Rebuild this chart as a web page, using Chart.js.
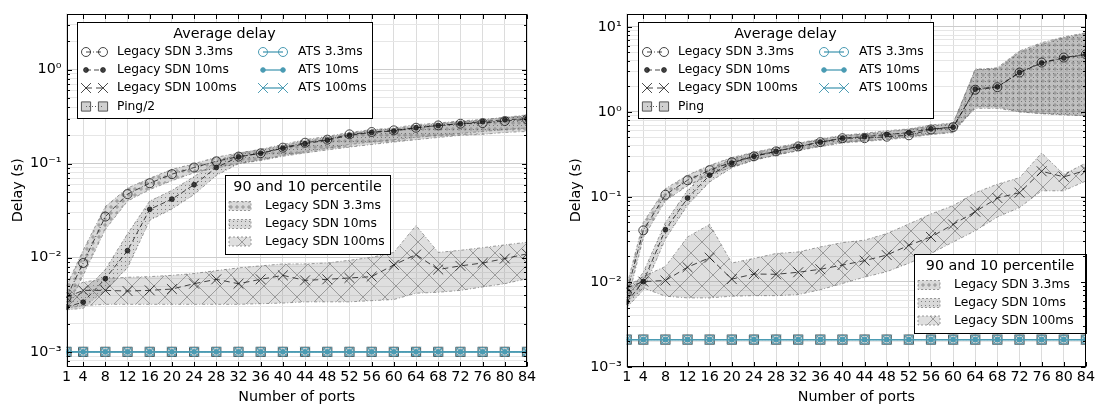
<!DOCTYPE html>
<html>
<head>
<meta charset="utf-8">
<script src="https://cdn.jsdelivr.net/npm/chart.js@4.4.1/dist/chart.umd.min.js"></script>
<style>
  html, body { margin: 0; padding: 0; background: #fff; }
  #wrap { position: relative; width: 1097px; height: 405px; }
  canvas { position: absolute; top: 0; }
  #left { left: 0; }
  #right { left: 548px; }
</style>
</head>
<body>
<div id="wrap">
  <canvas id="left" width="548" height="405"></canvas>
  <canvas id="right" width="549" height="405"></canvas>
</div>
<script>
// x positions (number of ports) shared by every series
const ports = [1, 4, 8, 12, 16, 20, 24, 28, 32, 36, 40, 44, 48, 52, 56, 60, 64, 68, 72, 76, 80, 84];

// log axis labels
const decadeValues = [0.001, 0.01, 0.1, 1, 10];
const decadeLabels = ['10⁻³', '10⁻²', '10⁻¹', '10⁰', '10¹'];

const delayLabels = ['Legacy SDN 3.3ms', 'Legacy SDN 10ms', 'Legacy SDN 100ms'];
const atsLabels = ['ATS 3.3ms', 'ATS 10ms', 'ATS 100ms'];

// ---- left panel: average delay (s) ----
const leftSdn33 = [0.0038, 0.0088, 0.0274, 0.0475, 0.062, 0.0774, 0.091, 0.106, 0.119, 0.129, 0.148, 0.167, 0.18, 0.205, 0.217, 0.226, 0.241, 0.255, 0.266, 0.27, 0.284, 0.296];
const leftSdn10 = [0.0030, 0.00337, 0.0060, 0.0119, 0.0327, 0.042, 0.0597, 0.091, 0.118, 0.129, 0.146, 0.163, 0.178, 0.2, 0.215, 0.222, 0.241, 0.254, 0.265, 0.28, 0.293, 0.30];
const leftSdn100 = [0.0038, 0.0045, 0.0045, 0.00443, 0.0045, 0.00465, 0.0053, 0.0059, 0.0053, 0.0059, 0.0065, 0.00575, 0.0059, 0.0061, 0.0063, 0.0084, 0.0108, 0.0075, 0.0082, 0.0088, 0.0098, 0.011];
const leftPing = [0.001, 0.001, 0.001, 0.001, 0.001, 0.001, 0.001, 0.001, 0.001, 0.001, 0.001, 0.001, 0.001, 0.001, 0.001, 0.001, 0.001, 0.001, 0.001, 0.001, 0.001, 0.001];
const leftAts33 = [0.001, 0.001, 0.001, 0.001, 0.001, 0.001, 0.001, 0.001, 0.001, 0.001, 0.001, 0.001, 0.001, 0.001, 0.001, 0.001, 0.001, 0.001, 0.001, 0.001, 0.001, 0.001];
const leftAts10 = [0.001, 0.001, 0.001, 0.001, 0.001, 0.001, 0.001, 0.001, 0.001, 0.001, 0.001, 0.001, 0.001, 0.001, 0.001, 0.001, 0.001, 0.001, 0.001, 0.001, 0.001, 0.001];
const leftAts100 = [0.001, 0.001, 0.001, 0.001, 0.001, 0.001, 0.001, 0.001, 0.001, 0.001, 0.001, 0.001, 0.001, 0.001, 0.001, 0.001, 0.001, 0.001, 0.001, 0.001, 0.001, 0.001];

// left panel: 10th / 90th percentile
const leftLo33 = [0.0028, 0.0065, 0.020, 0.040, 0.053, 0.066, 0.080, 0.090, 0.100, 0.108, 0.120, 0.130, 0.140, 0.150, 0.160, 0.170, 0.180, 0.190, 0.200, 0.205, 0.215, 0.220];
const leftHi33 = [0.0050, 0.012, 0.035, 0.055, 0.070, 0.087, 0.100, 0.117, 0.130, 0.140, 0.155, 0.175, 0.190, 0.210, 0.225, 0.235, 0.250, 0.265, 0.280, 0.290, 0.310, 0.330];
const leftLo10 = [0.0028, 0.0029, 0.0046, 0.0078, 0.025, 0.033, 0.047, 0.075, 0.100, 0.110, 0.123, 0.135, 0.145, 0.160, 0.170, 0.180, 0.190, 0.200, 0.210, 0.220, 0.230, 0.240];
const leftHi10 = [0.0036, 0.0043, 0.0075, 0.018, 0.040, 0.052, 0.073, 0.105, 0.130, 0.142, 0.160, 0.180, 0.195, 0.215, 0.230, 0.240, 0.260, 0.270, 0.285, 0.295, 0.310, 0.320];
const leftLo100 = [0.0029, 0.0031, 0.0032, 0.0032, 0.0032, 0.0032, 0.0032, 0.0032, 0.0032, 0.00325, 0.0033, 0.0034, 0.0034, 0.0034, 0.0035, 0.0036, 0.0042, 0.0043, 0.0045, 0.0049, 0.0053, 0.0060];
const leftHi100 = [0.0045, 0.0055, 0.0060, 0.0062, 0.0063, 0.0065, 0.0068, 0.0073, 0.0078, 0.0082, 0.0086, 0.0086, 0.0088, 0.0094, 0.0101, 0.0114, 0.022, 0.0114, 0.012, 0.0128, 0.0137, 0.0146];

// ---- right panel: average delay (s) ----
const rightSdn33 = [0.0074, 0.0404, 0.106, 0.157, 0.206, 0.256, 0.30, 0.343, 0.392, 0.44, 0.49, 0.49, 0.51, 0.53, 0.62, 0.66, 1.82, 1.95, 2.9, 3.8, 4.35, 4.75];
const rightSdn10 = [0.0058, 0.0101, 0.0411, 0.0969, 0.18, 0.25, 0.30, 0.343, 0.39, 0.44, 0.49, 0.51, 0.54, 0.57, 0.63, 0.66, 1.85, 1.97, 2.9, 3.75, 4.3, 4.7];
const rightSdn100 = [0.0085, 0.0101, 0.0104, 0.0149, 0.0193, 0.0108, 0.0124, 0.0123, 0.013, 0.0141, 0.0158, 0.0178, 0.0207, 0.027, 0.0338, 0.0474, 0.067, 0.097, 0.112, 0.2, 0.172, 0.205];
const rightPing = [0.0021, 0.0021, 0.0021, 0.0021, 0.0021, 0.0021, 0.0021, 0.0021, 0.0021, 0.0021, 0.0021, 0.0021, 0.0021, 0.0021, 0.0021, 0.0021, 0.0021, 0.0021, 0.0021, 0.0021, 0.0021, 0.0021];
const rightAts33 = [0.0021, 0.0021, 0.0021, 0.0021, 0.0021, 0.0021, 0.0021, 0.0021, 0.0021, 0.0021, 0.0021, 0.0021, 0.0021, 0.0021, 0.0021, 0.0021, 0.0021, 0.0021, 0.0021, 0.0021, 0.0021, 0.0021];
const rightAts10 = [0.0021, 0.0021, 0.0021, 0.0021, 0.0021, 0.0021, 0.0021, 0.0021, 0.0021, 0.0021, 0.0021, 0.0021, 0.0021, 0.0021, 0.0021, 0.0021, 0.0021, 0.0021, 0.0021, 0.0021, 0.0021, 0.0021];
const rightAts100 = [0.0021, 0.0021, 0.0021, 0.0021, 0.0021, 0.0021, 0.0021, 0.0021, 0.0021, 0.0021, 0.0021, 0.0021, 0.0021, 0.0021, 0.0021, 0.0021, 0.0021, 0.0021, 0.0021, 0.0021, 0.0021, 0.0021];

// right panel: 10th / 90th percentile
const rightLo33 = [0.0055, 0.033, 0.090, 0.135, 0.180, 0.225, 0.270, 0.310, 0.350, 0.390, 0.430, 0.450, 0.470, 0.500, 0.540, 0.570, 1.15, 1.15, 1.00, 0.96, 0.93, 0.90];
const rightHi33 = [0.0090, 0.050, 0.125, 0.180, 0.235, 0.290, 0.335, 0.380, 0.430, 0.480, 0.530, 0.560, 0.600, 0.630, 0.700, 0.740, 3.1, 3.3, 5.2, 6.5, 7.6, 8.5];
const rightLo10 = [0.0050, 0.0080, 0.032, 0.080, 0.150, 0.220, 0.270, 0.310, 0.350, 0.400, 0.440, 0.460, 0.480, 0.510, 0.550, 0.580, 1.10, 1.10, 1.00, 0.95, 0.92, 0.90];
const rightHi10 = [0.0070, 0.013, 0.050, 0.120, 0.210, 0.280, 0.330, 0.370, 0.420, 0.470, 0.520, 0.550, 0.580, 0.620, 0.680, 0.720, 3.2, 3.2, 5.0, 6.2, 7.4, 8.3];
const rightLo100 = [0.0058, 0.0085, 0.0068, 0.0065, 0.0065, 0.0068, 0.0069, 0.0069, 0.0071, 0.0081, 0.0096, 0.0114, 0.0132, 0.0166, 0.0216, 0.0295, 0.040, 0.058, 0.075, 0.118, 0.118, 0.154];
const rightHi100 = [0.0088, 0.0116, 0.0152, 0.0338, 0.0474, 0.0167, 0.0189, 0.0216, 0.0225, 0.0258, 0.029, 0.031, 0.037, 0.048, 0.063, 0.079, 0.112, 0.141, 0.168, 0.328, 0.184, 0.25];

const FONT = '"DejaVu Sans", "Liberation Sans", sans-serif';
const INK = 'rgba(25,25,25,0.8)';
const TEAL = '#4a9bb3';
const CLEAR = 'rgba(0,0,0,0)';
const BAND_EDGE = 'rgba(110,110,110,0.85)';

const styles = {
  sdn33:  { color: INK, width: 1, dash: [5, 2, 1, 2], point: 'circle', radius: 4.5, fill: CLEAR },
  sdn10:  { color: INK, width: 1, dash: [5, 3], point: 'circle', radius: 2.4, fill: INK },
  sdn100: { color: INK, width: 1, dash: [6, 4], point: 'crossRot', radius: 7, fill: INK },
  ping:   { color: '#555', width: 1, dash: [1, 2], point: 'rect', radius: 6.5, fill: 'rgba(120,120,120,0.35)' },
  ats33:  { color: TEAL, width: 1.3, dash: [], point: 'circle', radius: 4.5, fill: CLEAR },
  ats10:  { color: TEAL, width: 1.3, dash: [], point: 'circle', radius: 2.3, fill: TEAL },
  ats100: { color: TEAL, width: 1.3, dash: [], point: 'crossRot', radius: 7, fill: TEAL }
};

// hatch fills for the percentile bands
function hatchPattern(kind) {
  const tile = document.createElement('canvas');
  const g = tile.getContext('2d');
  if (kind === 'x') {
    tile.width = tile.height = 22;
    g.fillStyle = 'rgba(150,150,150,0.3)';
    g.fillRect(0, 0, 22, 22);
    g.strokeStyle = 'rgba(70,70,70,0.55)';
    g.lineWidth = 0.8;
    g.beginPath();
    g.moveTo(0, 0); g.lineTo(22, 22);
    g.moveTo(22, 0); g.lineTo(0, 22);
    g.stroke();
  } else if (kind === 'o') {
    tile.width = tile.height = 6;
    g.fillStyle = 'rgba(140,140,140,0.33)';
    g.fillRect(0, 0, 6, 6);
    g.strokeStyle = 'rgba(70,70,70,0.6)';
    g.lineWidth = 0.8;
    g.beginPath();
    g.arc(3, 3, 1.2, 0, Math.PI * 2);
    g.stroke();
  } else {
    tile.width = tile.height = 4;
    g.fillStyle = 'rgba(140,140,140,0.33)';
    g.fillRect(0, 0, 4, 4);
    g.fillStyle = 'rgba(70,70,70,0.6)';
    g.fillRect(1, 1, 1, 1);
  }
  return g.createPattern(tile, 'repeat');
}

const patterns = { p33: hatchPattern('o'), p10: hatchPattern('.'), p100: hatchPattern('x') };

const points = values => ports.map((p, i) => ({ x: p, y: values[i] }));

function lineSet(label, values, st, order) {
  return {
    label, data: points(values), order, fill: false,
    borderColor: st.color, borderWidth: st.width, borderDash: st.dash,
    pointStyle: st.point, pointRadius: st.radius,
    pointBorderColor: st.color, pointBackgroundColor: st.fill, pointBorderWidth: 1
  };
}

function bandSets(lo, hi, pattern) {
  const edge = { borderColor: BAND_EDGE, borderWidth: 0.8, borderDash: [3, 2, 1, 2], pointRadius: 0, order: 10 };
  return [
    Object.assign({ data: points(lo), fill: false }, edge),
    Object.assign({ data: points(hi), fill: '-1', backgroundColor: pattern }, edge)
  ];
}

const isDecade = v => Math.abs(Math.log10(v) - Math.round(Math.log10(v))) < 1e-6;
function decadeText(v) {
  const i = decadeValues.findIndex(d => Math.abs(d - v) / d < 1e-6);
  return i < 0 ? '' : decadeLabels[i];
}

// legend boxes and the axis frame with inward ticks
function drawDelayLegend(ctx, box, pingLabel) {
  ctx.save();
  ctx.fillStyle = '#fff';
  ctx.fillRect(box.x, box.y, box.w, box.h);
  ctx.strokeStyle = '#000';
  ctx.lineWidth = 1;
  ctx.strokeRect(box.x + 0.5, box.y + 0.5, box.w, box.h);
  ctx.fillStyle = '#000';
  ctx.font = '14.3px ' + FONT;
  ctx.textAlign = 'center';
  ctx.textBaseline = 'middle';
  ctx.fillText('Average delay', box.x + box.w / 2, box.y + 12);

  const rows = [30, 48, 66, 84.5];
  const cols = [
    { m1: 9, m2: 26, t: 40, items: [[styles.sdn33, delayLabels[0]], [styles.sdn10, delayLabels[1]], [styles.sdn100, delayLabels[2]], [styles.ping, pingLabel]] },
    { m1: 186, m2: 206, t: 221, items: [[styles.ats33, atsLabels[0]], [styles.ats10, atsLabels[1]], [styles.ats100, atsLabels[2]]] }
  ];
  ctx.font = '12.3px ' + FONT;
  ctx.textAlign = 'left';
  cols.forEach(col => {
    col.items.forEach(([st, label], r) => {
      const y = box.y + rows[r];
      ctx.save();
      ctx.strokeStyle = st.color;
      ctx.lineWidth = st.width;
      ctx.setLineDash(st.dash);
      ctx.beginPath();
      ctx.moveTo(box.x + col.m1, y);
      ctx.lineTo(box.x + col.m2, y);
      ctx.stroke();
      ctx.setLineDash([]);
      ctx.lineWidth = 1;
      ctx.fillStyle = st.fill;
      [col.m1, col.m2].forEach(mx => {
        Chart.helpers.drawPoint(ctx, { pointStyle: st.point, radius: st.radius, rotation: 0, borderWidth: 1 }, box.x + mx, y);
      });
      ctx.restore();
      ctx.fillStyle = '#000';
      ctx.fillText(label, box.x + col.t, y);
    });
  });
  ctx.restore();
}

function drawBandLegend(ctx, box) {
  ctx.save();
  ctx.fillStyle = '#fff';
  ctx.fillRect(box.x, box.y, box.w, box.h);
  ctx.strokeStyle = '#000';
  ctx.lineWidth = 1;
  ctx.strokeRect(box.x + 0.5, box.y + 0.5, box.w, box.h);
  ctx.fillStyle = '#000';
  ctx.font = '14.3px ' + FONT;
  ctx.textAlign = 'center';
  ctx.textBaseline = 'middle';
  ctx.fillText('90 and 10 percentile', box.x + box.w / 2, box.y + 12);

  const rows = [31, 49, 66.5];
  const fills = [patterns.p33, patterns.p10, patterns.p100];
  ctx.font = '12.3px ' + FONT;
  ctx.textAlign = 'left';
  fills.forEach((pat, r) => {
    const y = box.y + rows[r];
    ctx.fillStyle = pat;
    ctx.fillRect(box.x + 4, y - 4.5, 22, 9);
    ctx.save();
    ctx.strokeStyle = BAND_EDGE;
    ctx.lineWidth = 0.8;
    ctx.setLineDash([2, 2]);
    ctx.strokeRect(box.x + 4, y - 4.5, 22, 9);
    ctx.restore();
    ctx.fillStyle = '#000';
    ctx.fillText(delayLabels[r], box.x + 40, y);
  });
  ctx.restore();
}

function drawFrame(chart) {
  const { ctx, chartArea: a, scales: { x, y } } = chart;
  ctx.save();
  ctx.strokeStyle = '#000';
  ctx.lineWidth = 1;
  const L = Math.round(a.left) + 0.5, R = Math.round(a.right) - 0.5;
  const T = Math.round(a.top) + 0.5, B = Math.round(a.bottom) - 0.5;
  ctx.strokeRect(L, T, R - L, B - T);
  ctx.beginPath();
  x.ticks.forEach(t => {
    const px = Math.round(x.getPixelForValue(t.value)) + 0.5;
    ctx.moveTo(px, B); ctx.lineTo(px, B - 4.5);
    ctx.moveTo(px, T); ctx.lineTo(px, T + 4.5);
  });
  y.ticks.forEach(t => {
    const py = Math.round(y.getPixelForValue(t.value)) + 0.5;
    const len = isDecade(t.value) ? 4.5 : 2.5;
    ctx.moveTo(L, py); ctx.lineTo(L + len, py);
    ctx.moveTo(R, py); ctx.lineTo(R - len, py);
  });
  ctx.stroke();
  ctx.restore();
}

function overlay(panel) {
  return {
    id: 'overlay',
    afterDraw(chart) {
      drawDelayLegend(chart.ctx, panel.delayBox, panel.pingLabel);
      drawBandLegend(chart.ctx, panel.bandBox);
      drawFrame(chart);
    }
  };
}

function buildChart(canvas, panel) {
  const datasets = [
    lineSet(atsLabels[0], panel.ats33, styles.ats33, 1),
    lineSet(atsLabels[1], panel.ats10, styles.ats10, 1),
    lineSet(atsLabels[2], panel.ats100, styles.ats100, 1),
    lineSet(panel.pingLabel, panel.ping, styles.ping, 2),
    lineSet(delayLabels[0], panel.sdn33, styles.sdn33, 3),
    lineSet(delayLabels[1], panel.sdn10, styles.sdn10, 3),
    lineSet(delayLabels[2], panel.sdn100, styles.sdn100, 3),
    ...bandSets(panel.lo100, panel.hi100, patterns.p100),
    ...bandSets(panel.lo10, panel.hi10, patterns.p10),
    ...bandSets(panel.lo33, panel.hi33, patterns.p33)
  ];
  return new Chart(canvas, {
    type: 'line',
    data: { datasets },
    options: {
      responsive: false,
      animation: false,
      devicePixelRatio: 1,
      events: [],
      layout: { padding: { left: panel.padLeft, right: panel.padRight, top: 12, bottom: 0 } },
      plugins: { legend: { display: false }, tooltip: { enabled: false } },
      scales: {
        x: {
          type: 'linear', min: 1, max: 84,
          afterBuildTicks: s => { s.ticks = ports.map(v => ({ value: v })); },
          afterFit: s => { s.height = 38; },
          border: { display: false },
          grid: { color: '#dcdcdc', lineWidth: 1, drawTicks: false },
          ticks: { autoSkip: false, maxRotation: 0, padding: 2, color: '#000', font: { family: FONT, size: 14.3 } },
          title: { display: true, text: 'Number of ports', color: '#000', padding: 0, font: { family: FONT, size: 14.3, lineHeight: 1.1 } }
        },
        y: {
          type: 'logarithmic', min: panel.yMin, max: panel.yMax,
          afterBuildTicks: s => {
            const ticks = [];
            for (let e = -4; e <= 1; e++) {
              for (let m = 1; m <= 9; m++) {
                const v = m * Math.pow(10, e);
                if (v >= s.min * 0.9999 && v <= s.max * 1.0001) ticks.push({ value: v, major: m === 1 });
              }
            }
            s.ticks = ticks;
          },
          afterFit: s => { s.width = panel.yWidth; },
          border: { display: false },
          grid: {
            drawTicks: false,
            lineWidth: 1,
            color: c => (c.tick && isDecade(c.tick.value) ? '#cccccc' : '#e6e6e6')
          },
          ticks: {
            autoSkip: false, padding: 5, color: '#000', font: { family: FONT, size: 14.3 },
            callback: v => (isDecade(v) ? decadeText(v) : '')
          },
          title: { display: true, text: 'Delay (s)', color: '#000', padding: 0, font: { family: FONT, size: 14.3, lineHeight: 1.2 } }
        }
      }
    },
    plugins: [overlay(panel)]
  });
}

buildChart(document.getElementById('left'), {
  sdn33: leftSdn33, sdn10: leftSdn10, sdn100: leftSdn100, ping: leftPing,
  ats33: leftAts33, ats10: leftAts10, ats100: leftAts100,
  lo33: leftLo33, hi33: leftHi33, lo10: leftLo10, hi10: leftHi10, lo100: leftLo100, hi100: leftHi100,
  pingLabel: 'Ping/2',
  yMin: 0.00069, yMax: 3.94,
  padLeft: 9.4, padRight: 21, yWidth: 57.1,
  delayBox: { x: 77, y: 22, w: 295, h: 96 },
  bandBox: { x: 225, y: 175, w: 165, h: 79 }
});

buildChart(document.getElementById('right'), {
  sdn33: rightSdn33, sdn10: rightSdn10, sdn100: rightSdn100, ping: rightPing,
  ats33: rightAts33, ats10: rightAts10, ats100: rightAts100,
  lo33: rightLo33, hi33: rightHi33, lo10: rightLo10, hi10: rightHi10, lo100: rightLo100, hi100: rightHi100,
  pingLabel: 'Ping',
  yMin: 0.001, yMax: 14.3,
  padLeft: 20, padRight: 10.5, yWidth: 58.7,
  delayBox: { x: 90, y: 22, w: 295, h: 96 },
  bandBox: { x: 366, y: 254, w: 172, h: 79 }
});
</script>
</body>
</html>
